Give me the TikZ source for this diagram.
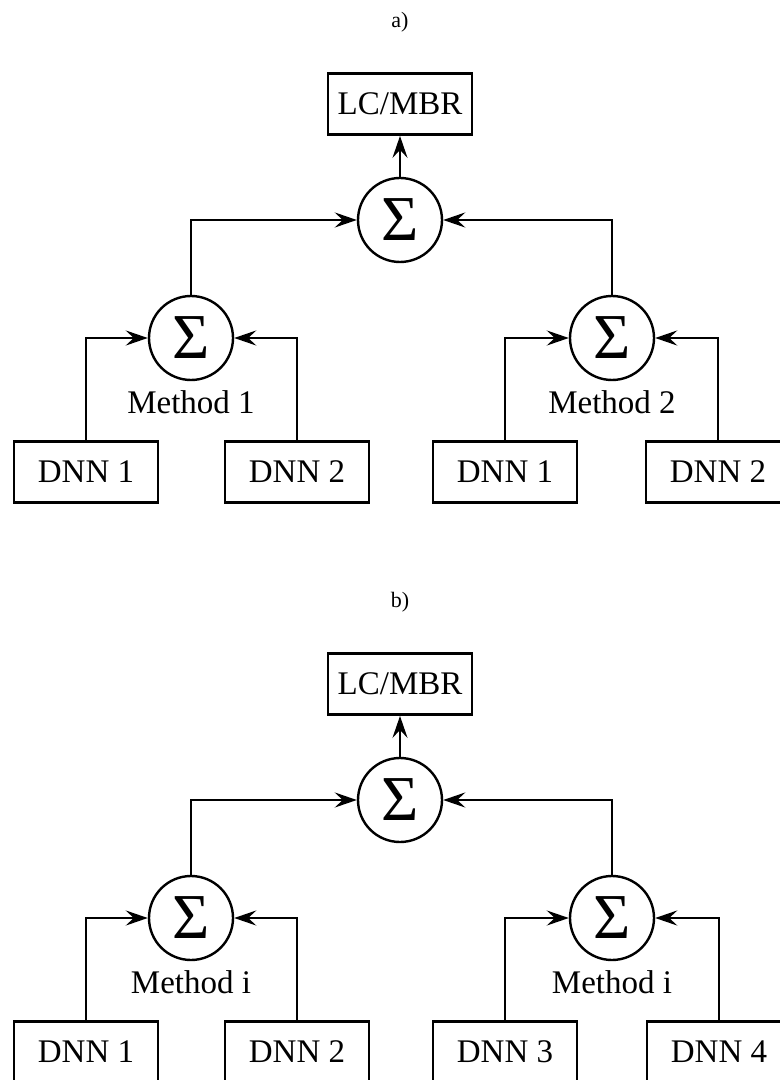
\documentclass[tikz,border=0pt]{standalone}
\usepackage{fontspec}
\setmainfont{Liberation Serif}
\usetikzlibrary{arrows.meta,positioning}

\tikzset{
  block/.style={draw, line width=1.4pt, minimum width=72pt, minimum height=30.5pt,
    inner sep=0pt, font=\fontsize{16.5}{18}\selectfont},
  summer/.style={draw, circle, line width=1.2pt, minimum size=42pt, inner sep=0pt,
    font=\fontsize{32}{34}\selectfont},
  methodlabel/.style={font=\fontsize{16.5}{18}\selectfont},
  panellabel/.style={font=\fontsize{11}{13}\selectfont},
  feed/.style={line width=1.4pt, -{Stealth[length=11pt, width=7.5pt, inset=4pt]}},
}

\begin{document}
\begin{tikzpicture}[x=0.5pt, y=-0.5pt]
  \useasboundingbox (0,0) rectangle (780,1080);
  % ── a) two methods, two DNNs each ──
  \node[panellabel] (a-label) at (400,22) {a)};
  \node[block] (a-out) at (400,104) {LC/MBR};
  \node[summer] (a-sum) at (400,220) {Σ};
  \node[summer] (a-sum1) at (191,338) {Σ};
  \node[summer] (a-sum2) at (612,338) {Σ};
  \node[methodlabel] (a-m1) at (191,402) {Method 1};
  \node[methodlabel] (a-m2) at (612,402) {Method 2};
  \node[block] (a-dnn11) at (86,472) {DNN 1};
  \node[block] (a-dnn12) at (297,472) {DNN 2};
  \node[block] (a-dnn21) at (505,472) {DNN 1};
  \node[block] (a-dnn22) at (718,472) {DNN 2};
  %
  \draw[feed] (a-sum) -- (a-out);
  \draw[feed] (a-sum1) |- (a-sum);
  \draw[feed] (a-sum2) |- (a-sum);
  \draw[feed] (a-dnn11) |- (a-sum1);
  \draw[feed] (a-dnn12) |- (a-sum1);
  \draw[feed] (a-dnn21) |- (a-sum2);
  \draw[feed] (a-dnn22) |- (a-sum2);
  %
  % ── b) one method, four DNNs ──
  \begin{scope}[shift={(0,580)}]
    \node[panellabel] (b-label) at (400,22) {b)};
    \node[block] (b-out) at (400,104) {LC/MBR};
    \node[summer] (b-sum) at (400,220) {Σ};
    \node[summer] (b-sum1) at (191,338) {Σ};
    \node[summer] (b-sum2) at (612,338) {Σ};
    \node[methodlabel] (b-m1) at (191,402) {Method i};
    \node[methodlabel] (b-m2) at (612,402) {Method i};
    \node[block] (b-dnn1) at (86,472) {DNN 1};
    \node[block] (b-dnn2) at (297,472) {DNN 2};
    \node[block] (b-dnn3) at (505,472) {DNN 3};
    \node[block] (b-dnn4) at (719,472) {DNN 4};
    %
    \draw[feed] (b-sum) -- (b-out);
    \draw[feed] (b-sum1) |- (b-sum);
    \draw[feed] (b-sum2) |- (b-sum);
    \draw[feed] (b-dnn1) |- (b-sum1);
    \draw[feed] (b-dnn2) |- (b-sum1);
    \draw[feed] (b-dnn3) |- (b-sum2);
    \draw[feed] (b-dnn4) |- (b-sum2);
  \end{scope}
\end{tikzpicture}
\end{document}
